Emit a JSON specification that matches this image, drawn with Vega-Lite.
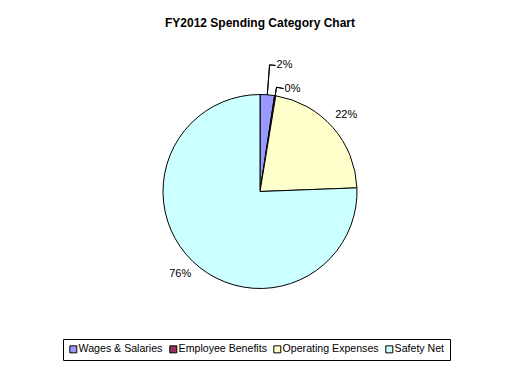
{
  "$schema": "https://vega.github.io/schema/vega-lite/v6.json",
  "width": 520,
  "height": 303,
  "autosize": {"type": "none"},
  "padding": {"top": 40, "bottom": 30, "left": 0, "right": 0},
  "background": "white",
  "config": {"view": {"stroke": null}, "font": "Liberation Sans"},
  "title": {"text": "FY2012 Spending Category Chart", "fontSize": 12, "fontWeight": "bold", "font": "Liberation Sans", "color": "black", "anchor": "middle", "offset": 10},
  "datasets": {
    "spending": [
      {"category": "Wages & Salaries", "value": 2.4, "idx": 1, "label": ""},
      {"category": "Employee Benefits", "value": 0.2, "idx": 2, "label": ""},
      {"category": "Operating Expenses", "value": 21.8, "idx": 3, "label": "22%"},
      {"category": "Safety Net", "value": 75.6, "idx": 4, "label": "76%"}
    ],
    "leaders": [
      {"seg": "2% up", "t1": 1.2, "t2": 1.2, "r1": 1, "r2": 1.309},
      {"seg": "2% across", "t1": 1.2, "t2": 1.95, "r1": 1.309, "r2": 1.309},
      {"seg": "0% up", "t1": 2.5, "t2": 2.5, "r1": 1, "r2": 1.088},
      {"seg": "0% across", "t1": 2.5, "t2": 3.58, "r1": 1.088, "r2": 1.088}
    ],
    "callouts": [
      {"label": "2%", "t": 1.95, "r": 1.309},
      {"label": "0%", "t": 3.58, "r": 1.088}
    ]
  },
  "layer": [
    {
      "data": {"name": "spending"},
      "mark": {"type": "arc", "outerRadius": 97, "stroke": "black", "strokeWidth": 1},
      "encoding": {
        "theta": {"field": "value", "type": "quantitative", "stack": true, "scale": {"domain": [0, 100]}},
        "order": {"field": "idx", "type": "quantitative"},
        "color": {
          "field": "category",
          "type": "nominal",
          "scale": {
            "domain": ["Wages & Salaries", "Employee Benefits", "Operating Expenses", "Safety Net"],
            "range": ["#9999FF", "#993366", "#FFFFCC", "#CCFFFF"]
          },
          "legend": {
            "orient": "none",
            "legendX": 63,
            "legendY": 299,
            "direction": "horizontal",
            "title": null,
            "strokeColor": "black",
            "padding": 5,
            "symbolType": "square",
            "symbolSize": 49,
            "symbolStrokeColor": "black",
            "symbolStrokeWidth": 1,
            "symbolOpacity": 1,
            "labelFont": "Liberation Sans",
            "labelFontSize": 10.6,
            "labelColor": "black",
            "columnPadding": 4,
            "labelOffset": 0
          }
        }
      }
    },
    {
      "data": {"name": "spending"},
      "mark": {"type": "text", "radius": 115, "fontSize": 11, "font": "Liberation Sans", "color": "black"},
      "encoding": {
        "theta": {"field": "value", "type": "quantitative", "stack": true, "scale": {"domain": [0, 100]}},
        "order": {"field": "idx", "type": "quantitative"},
        "text": {"field": "label"}
      }
    },
    {
      "data": {"name": "leaders"},
      "mark": {"type": "arc", "filled": false, "stroke": "black", "strokeWidth": 1},
      "encoding": {
        "theta": {"field": "t1", "type": "quantitative", "scale": {"domain": [0, 100]}},
        "theta2": {"field": "t2"},
        "radius": {"field": "r1", "type": "quantitative", "scale": {"type": "linear", "domain": [0, 1.4], "range": [0, 135.8]}},
        "radius2": {"field": "r2"}
      }
    },
    {
      "data": {"name": "callouts"},
      "mark": {"type": "text", "align": "left", "baseline": "middle", "dx": 1, "fontSize": 11, "font": "Liberation Sans", "color": "black"},
      "encoding": {
        "theta": {"field": "t", "type": "quantitative", "scale": {"domain": [0, 100]}},
        "radius": {"field": "r", "type": "quantitative", "scale": {"type": "linear", "domain": [0, 1.4], "range": [0, 135.8]}},
        "text": {"field": "label"}
      }
    }
  ]
}
